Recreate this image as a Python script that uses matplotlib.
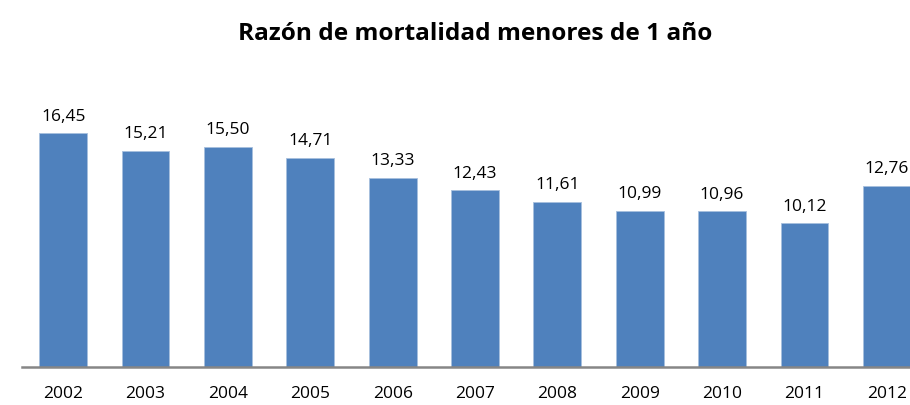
import matplotlib.pyplot as plt

# Data
years = ["2002", "2003", "2004", "2005", "2006", "2007", "2008", "2009", "2010", "2011", "2012"]
ratios = [16.45, 15.21, 15.50, 14.71, 13.33, 12.43, 11.61, 10.99, 10.96, 10.12, 12.76]

plt.rcParams['font.family'] = ['Open Sans', 'DejaVu Sans']

fig = plt.figure(figsize=(9.10, 4.06), dpi=100)
# axes runs past the right edge, like the cropped original
ax = fig.add_axes([22 / 910, 38 / 406, 906 / 910, 284 / 406])

x = list(range(len(years)))
bars = ax.bar(x, ratios, width=0.58, color="#4F81BD", edgecolor="#A7BFDE", linewidth=0.6)

for xi, v in zip(x, ratios):
    ax.annotate(f"{v:.2f}".replace(".", ","), (xi, v), xytext=(0, 7),
                textcoords="offset points", ha="center", va="bottom", fontsize=12.5)

ax.set_xlim(-0.5, len(years) - 0.5)
ax.set_ylim(0, 20)
ax.set_xticks(x)
ax.set_xticklabels(years, fontsize=12.5)
ax.tick_params(axis="x", length=0, pad=13)
ax.set_yticks([])
for s in ["left", "right", "top"]:
    ax.spines[s].set_visible(False)
ax.spines["bottom"].set_color("#868686")
ax.spines["bottom"].set_linewidth(1.8)

fig.text(475 / 910, 1 - 34 / 406, "Razón de mortalidad menores de 1 año",
         ha="center", va="center", fontsize=17.6, fontweight="bold")

fig.savefig("out.png", dpi=100)
